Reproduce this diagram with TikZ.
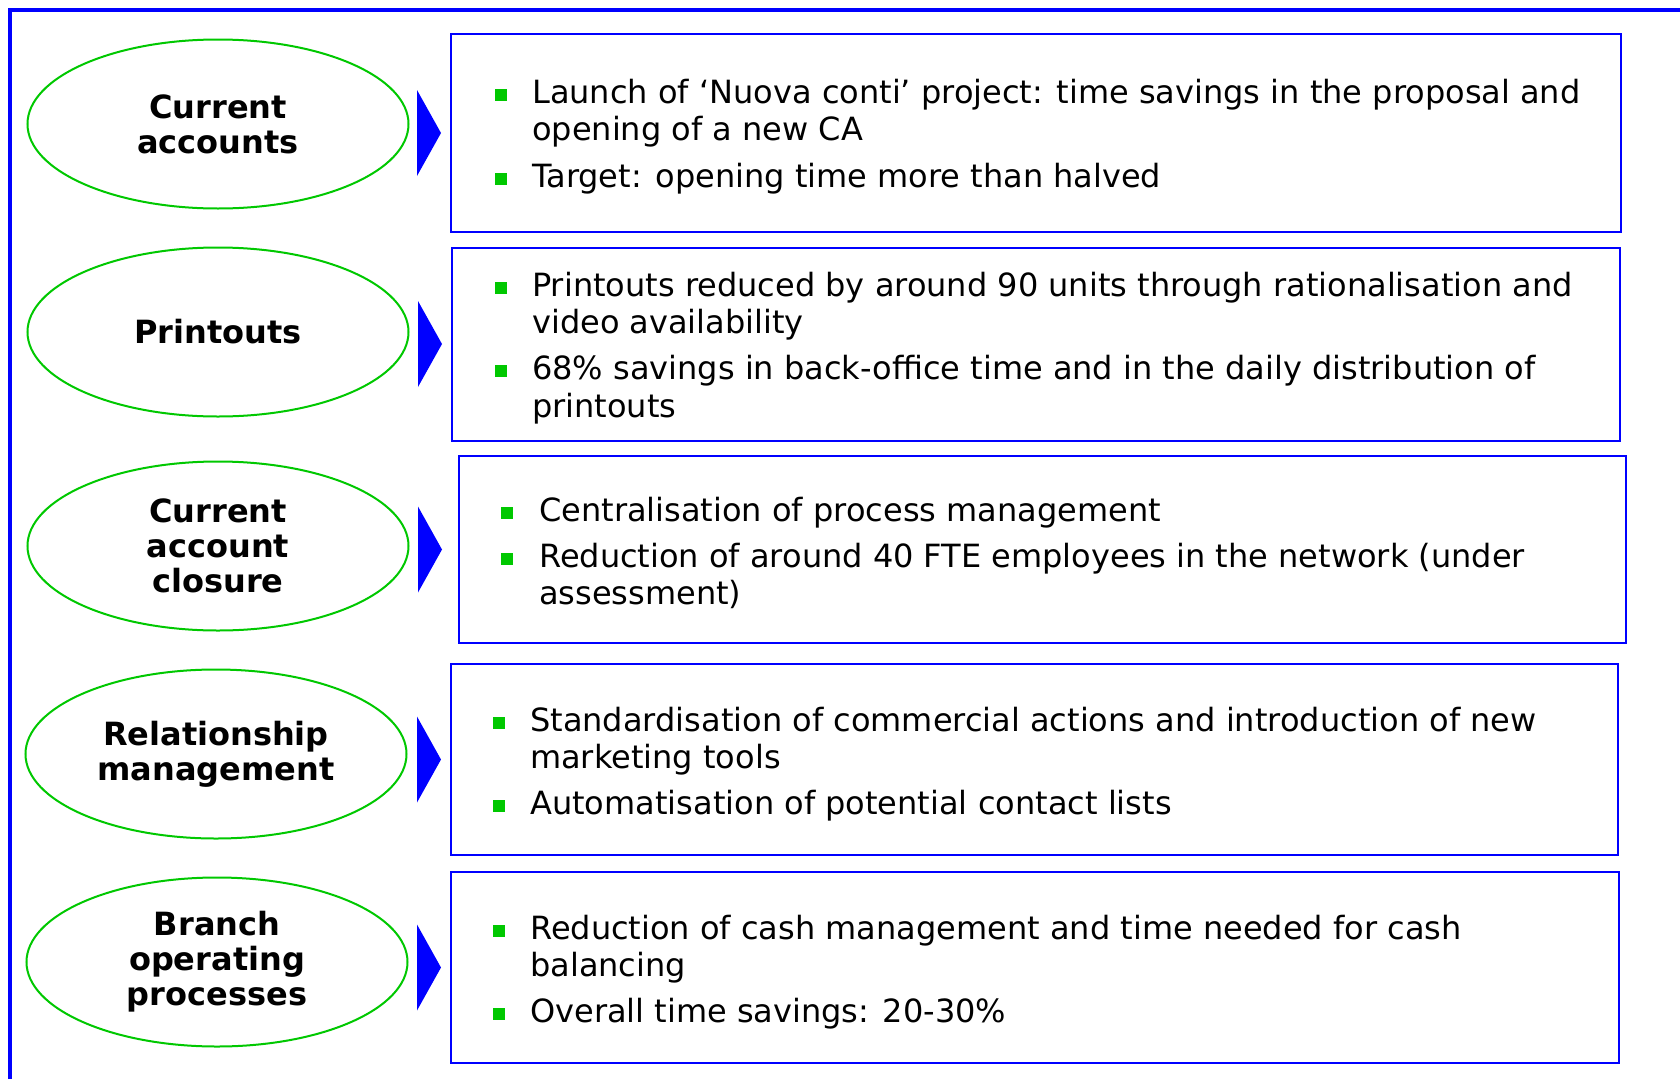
\documentclass[tikz,border=0pt]{standalone}
\usepackage{fontspec}
\setmainfont{DejaVu Sans}
\usetikzlibrary{shapes.geometric,calc}
\definecolor{frameblue}{RGB}{0,0,255}
\definecolor{ovalgreen}{RGB}{0,200,0}
\begin{document}
\begin{tikzpicture}[x=1pt,y=-1pt,
  topic/.style={ellipse, draw=ovalgreen, line width=2pt, minimum width=381pt,
    minimum height=169pt, inner sep=0pt, align=center,
    font=\fontsize{32}{35}\selectfont\bfseries},
  panel/.style={draw=frameblue, line width=2pt, inner sep=0pt},
  bodyline/.style={anchor=base west, inner sep=0pt, font=\fontsize{32}{37}\selectfont},
  sq/.style={fill=ovalgreen, minimum size=12pt, inner sep=0pt},
  pointer/.style={fill=frameblue}]
\useasboundingbox (0,0) rectangle (1680,1079);
\fill[white] (0,0) rectangle (1680,1079);
% outer frame (top and left edges)
\draw[frameblue, line width=4pt] (10,1079) -- (10,10) -- (1680,10);

% topic ovals
\node[topic] (e1) at (218,124) {Current\\accounts};
\node[topic] (e2) at (218,332) {Printouts};
\node[topic] (e3) at (218,546) {Current\\account\\closure};
\node[topic] (e4) at (216,754) {Relationship\\management};
\node[topic] (e5) at (217,962) {Branch\\operating\\processes};

% detail panels
\node[panel, minimum width=1170pt, minimum height=198pt] (p1) at (1036,133) {};
\node[panel, minimum width=1168pt, minimum height=193pt] (p2) at (1036,344) {};
\node[panel, minimum width=1167pt, minimum height=187pt] (p3) at (1042.5,549.5) {};
\node[panel, minimum width=1167pt, minimum height=191pt] (p4) at (1034.5,759.5) {};
\node[panel, minimum width=1168pt, minimum height=191pt] (p5) at (1035,967.5) {};

% pointers from ovals to panels
\foreach \p/\s in {p1/9, p2/9, p3/16, p4/9, p5/9}{
  \fill[pointer] ($(\p.west)+(-\s,0)$) -- ++(-24,-43) -- ++(0,86) -- cycle;
}

% panel 1
\node[sq] (m1a) at (501,95) {};
\node[bodyline] (t1a) at (532,103) {Launch of ‘Nuova conti’ project: time savings in the proposal and};
\node[bodyline] (t1b) at (532,140) {opening of a new CA};
\node[sq] (m1b) at (501,179) {};
\node[bodyline] (t1c) at (532,187) {Target: opening time more than halved};

% panel 2
\node[sq] (m2a) at (501,288) {};
\node[bodyline] (t2a) at (532,296) {Printouts reduced by around 90 units through rationalisation and};
\node[bodyline] (t2b) at (532,333) {video availability};
\node[sq] (m2b) at (501,371) {};
\node[bodyline] (t2c) at (532,379) {68\% savings in back-office time and in the daily distribution of};
\node[bodyline] (t2d) at (532,417) {printouts};

% panel 3
\node[sq] (m3a) at (507,513) {};
\node[bodyline] (t3a) at (539,521) {Centralisation of process management};
\node[sq] (m3b) at (507,559) {};
\node[bodyline] (t3b) at (539,567) {Reduction of around 40 FTE employees in the network (under};
\node[bodyline] (t3c) at (539,604) {assessment)};

% panel 4
\node[sq] (m4a) at (499,723) {};
\node[bodyline] (t4a) at (530,731) {Standardisation of commercial actions and introduction of new};
\node[bodyline] (t4b) at (530,768) {marketing tools};
\node[sq] (m4b) at (499,806) {};
\node[bodyline] (t4c) at (530,814) {Automatisation of potential contact lists};

% panel 5
\node[sq] (m5a) at (499,931) {};
\node[bodyline] (t5a) at (530,939) {Reduction of cash management and time needed for cash};
\node[bodyline] (t5b) at (530,976) {balancing};
\node[sq] (m5b) at (499,1014) {};
\node[bodyline] (t5c) at (530,1022) {Overall time savings: 20-30\%};
\end{tikzpicture}
\end{document}
